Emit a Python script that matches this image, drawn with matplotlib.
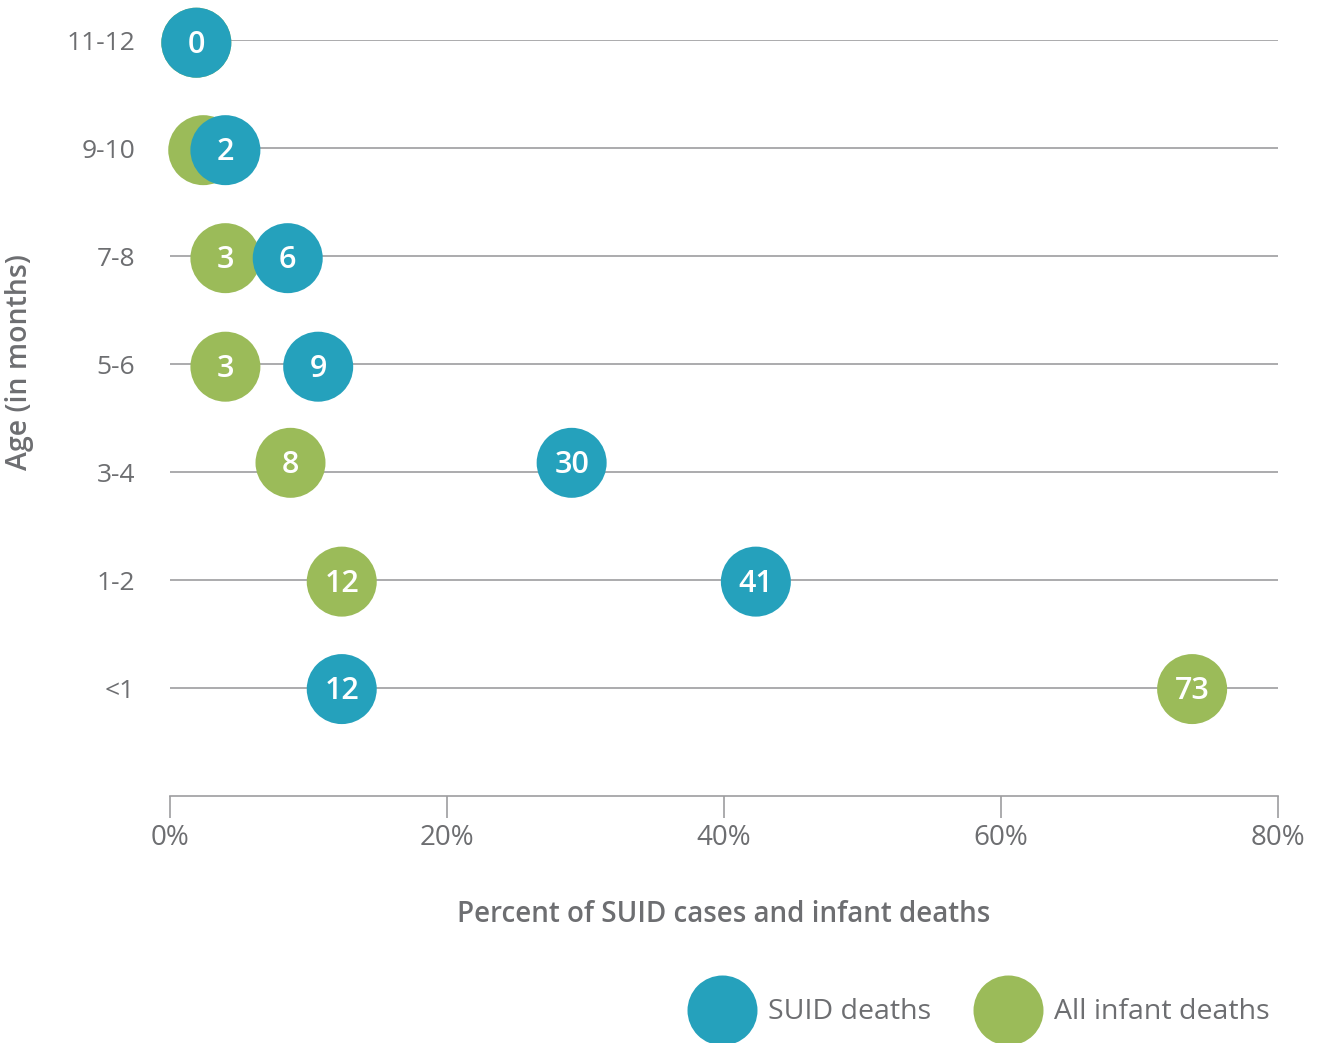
import numpy as np
import matplotlib
matplotlib.use('Agg')
import matplotlib.pyplot as plt
from matplotlib.lines import Line2D

plt.rcParams['font.family'] = ['Open Sans', 'DejaVu Sans']

# data
ages = ['<1', '1-2', '3-4', '5-6', '7-8', '9-10', '11-12']
suid_pos = [12.4, 42.3, 29.0, 10.7, 8.5, 4.0, 1.9]
suid_labels = ['12', '41', '30', '9', '6', '2', '0']
all_pos = [73.8, 12.4, 8.7, 4.0, 4.0, 2.4, 1.9]
all_labels = ['73', '12', '8', '3', '3', '1', '0']
xticks = [0, 20, 40, 60, 80]

# small vertical nudges of the dots, as in the original artwork
nudge = [-0.01, -0.015, 0.085, -0.025, -0.02, -0.02, -0.025]

blue = '#25A1BC'
green = '#9BBB59'
txt = '#6D6E71'
line = '#9D9D9F'

fig = plt.figure(figsize=(13.2, 10.43), dpi=100)
ax = fig.add_axes([170/1320, 1 - 796/1043, (1278-170)/1320, (796-40)/1043])

y = np.arange(len(ages))
yd = y + np.array(nudge)
ax.hlines(y, 0, 80, color=line, lw=1.2, zorder=1)

ax.scatter(all_pos, yd, s=2540, color=green, edgecolors='none', zorder=3, clip_on=False)
for xv, yv, lab in zip(all_pos, yd, all_labels):
    ax.text(xv, yv - 0.02, lab, color='white', fontsize=22, fontweight='semibold',
            ha='center', va='center', zorder=4)
ax.scatter(suid_pos, yd, s=2540, color=blue, edgecolors='none', zorder=5, clip_on=False)
for xv, yv, lab in zip(suid_pos, yd, suid_labels):
    ax.text(xv, yv - 0.02, lab, color='white', fontsize=22, fontweight='semibold',
            ha='center', va='center', zorder=6)

ax.set_xlim(0, 80)
ax.set_ylim(-1, 6)
ax.set_xticks(xticks)
ax.set_xticklabels(['{}%'.format(v) for v in xticks])
ax.set_yticks(y)
ax.set_yticklabels(ages)

for s in ['top', 'right', 'left']:
    ax.spines[s].set_visible(False)
ax.spines['bottom'].set_color(line)
ax.spines['bottom'].set_linewidth(1.2)
ax.tick_params(axis='x', direction='out', length=16, width=1.2, color=line,
               labelcolor=txt, labelsize=20, pad=4)
ax.tick_params(axis='y', length=0, labelcolor=txt, labelsize=19, pad=25)

ax.set_xlabel('Percent of SUID cases and infant deaths', fontsize=20,
              fontweight='semibold', color=txt, labelpad=35)
fig.text(20/1320, 1 - 362/1043, 'Age (in months)', rotation=90, fontsize=20.5,
         fontweight='semibold', color=txt, ha='center', va='center')

# legend
for cx, col, lab in [(722, blue, 'SUID deaths'), (1008, green, 'All infant deaths')]:
    fig.add_artist(Line2D([cx/1320], [1 - 1010/1043], marker='o', markersize=50.4,
                          color=col, markeredgewidth=0, transform=fig.transFigure))
    fig.text((cx + 46)/1320, 1 - 1012/1043, lab, fontsize=20.5, color=txt,
             ha='left', va='center')

fig.savefig('out.png', dpi=100)
